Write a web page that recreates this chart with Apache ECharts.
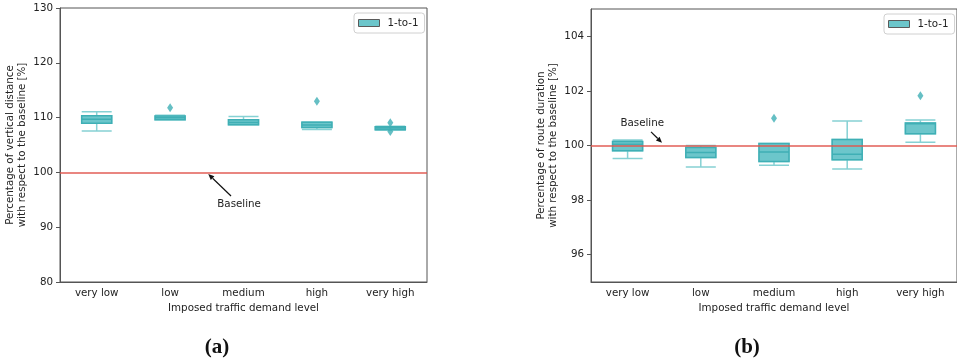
<!DOCTYPE html>
<html>
<head>
<meta charset="utf-8">
<script src="https://cdn.jsdelivr.net/npm/echarts@6/dist/echarts.min.js"></script>
<style>
  html, body { margin: 0; padding: 0; background: #fff; }
  #chart { width: 957px; height: 362px; }
</style>
</head>
<body>
<div id="chart"></div>
<script>
// Demand levels shared by both panels
const categories = ['very low', 'low', 'medium', 'high', 'very high'];

// (a) vertical distance, % of baseline: [min, Q1, median, Q3, max]
const distanceBoxes = [
  [107.55, 108.96, 109.70, 110.35, 111.08],
  [109.60, 109.60, 109.95, 110.30, 110.45],
  [108.70, 108.70, 109.10, 109.60, 110.20],
  [107.85, 108.20, 108.65, 109.15, 109.20],
  [107.75, 107.80, 108.10, 108.35, 108.40]
];
const distanceOutliers = [[1, 111.8], [3, 113.0], [4, 109.05], [4, 107.45]];

// (b) route duration, % of baseline: [min, Q1, median, Q3, max]
const durationBoxes = [
  [99.52, 99.81, 100.05, 100.15, 100.20],
  [99.21, 99.56, 99.74, 99.93, 100.00],
  [99.28, 99.41, 99.76, 100.07, 100.07],
  [99.14, 99.48, 99.68, 100.22, 100.90],
  [100.12, 100.43, 100.80, 100.82, 100.93]
];
const durationOutliers = [[2, 101.0], [4, 101.82]];

// Axis ticks
const distanceTicks = [80, 90, 100, 110, 120, 130];
const durationTicks = [96, 98, 100, 102, 104];
const baselineValue = 100;

const FONT = 'DejaVu Sans';
const FS = 10.3;
const FILL = '#6cc6cb';
const EDGE = '#3fafb5';
const WHISKER = '#86d1d4';
const AXIS = '#555';

// Box-only view of the same statistics (whiskers collapsed onto the box)
const boxOnly = rows => rows.map(r => [r[1], r[1], r[2], r[3], r[3]]);

const grids = [
  { left: 60, top: 8, width: 367, height: 274 },
  { left: 591, top: 9, width: 367, height: 273 }
];

function xAxisFor(gi, visible) {
  return {
    type: 'category', gridIndex: gi, data: categories, show: visible,
    name: visible ? 'Imposed traffic demand level' : '',
    nameLocation: 'middle', nameGap: 20,
    nameTextStyle: { fontFamily: FONT, fontSize: FS, color: '#222' },
    axisLine: { lineStyle: { color: AXIS, width: 1 } },
    axisTick: { alignWithLabel: true, length: 4, lineStyle: { color: AXIS } },
    axisLabel: { fontFamily: FONT, fontSize: FS, color: '#222', margin: 6 },
    splitLine: { show: false }
  };
}

function yAxisFor(gi, name, min, max, interval, ticks) {
  return {
    type: 'value', gridIndex: gi, min, max, interval,
    name, nameLocation: 'middle', nameGap: 32,
    nameTextStyle: { fontFamily: FONT, fontSize: FS, color: '#222', lineHeight: 12 },
    axisLine: { show: true, lineStyle: { color: AXIS, width: 1 } },
    axisTick: { show: true, length: 4, lineStyle: { color: AXIS }, customValues: ticks },
    axisLabel: { fontFamily: FONT, fontSize: FS, color: '#222', margin: 7, customValues: ticks },
    splitLine: { show: false }
  };
}

function panelSeries(gi, boxes, outliers) {
  // Baseline reference line, drawn above the boxes
  const baseline = {
    silent: true, symbol: ['none', 'none'], label: { show: false },
    lineStyle: { color: '#e0554d', width: 1.5, type: 'solid', opacity: 0.95 },
    data: [{ yAxis: baselineValue }]
  };
  return [
    {
      name: '1-to-1', type: 'boxplot', xAxisIndex: gi, yAxisIndex: gi,
      data: boxes, boxWidth: [30, 30],
      itemStyle: { color: FILL, borderColor: WHISKER, borderWidth: 1.5 },
      z: 2
    },
    {
      name: '1-to-1', type: 'boxplot', xAxisIndex: gi + 2, yAxisIndex: gi,
      data: boxOnly(boxes), boxWidth: [30, 30],
      itemStyle: { color: FILL, borderColor: EDGE, borderWidth: 1.5 },
      z: 3
    },
    {
      name: '1-to-1', type: 'scatter', xAxisIndex: gi, yAxisIndex: gi,
      data: outliers, symbol: 'diamond', symbolSize: [6, 9],
      itemStyle: { color: EDGE }, markLine: baseline, z: 4
    }
  ];
}

function legendAt(left, top) {
  return {
    left, top, orient: 'vertical',
    data: [{ name: '1-to-1', icon: 'rect' }],
    itemWidth: 21, itemHeight: 7,
    itemStyle: { color: FILL, borderColor: '#5a5a5a', borderWidth: 1 },
    padding: [5, 6, 5, 4],
    borderColor: '#d0d0d0', borderWidth: 1, borderRadius: 3,
    backgroundColor: '#fff',
    textStyle: { fontFamily: FONT, fontSize: FS, color: '#222', padding: [0, 0, 0, 3] },
    selectedMode: false
  };
}

const chart = echarts.init(document.getElementById('chart'), null, { renderer: 'canvas' });

chart.setOption({
  animation: false,
  backgroundColor: '#fff',
  grid: grids.map(g => Object.assign({ show: true, borderColor: AXIS, borderWidth: 1 }, g)),
  xAxis: [xAxisFor(0, true), xAxisFor(1, true), xAxisFor(0, false), xAxisFor(1, false)],
  yAxis: [
    yAxisFor(0, 'Percentage of vertical distance\nwith respect to the baseline [%]', 80, 130, 10, distanceTicks),
    yAxisFor(1, 'Percentage of route duration\nwith respect to the baseline [%]', 95, 105, 1, durationTicks)
  ],
  legend: [legendAt(354, 13), legendAt(884, 14)],
  title: [
    { text: '(a)', left: 212, top: 332, textAlign: 'center',
      textStyle: { fontFamily: 'Liberation Serif', fontWeight: 'bold', fontSize: 21, color: '#111' } },
    { text: '(b)', left: 742, top: 332, textAlign: 'center',
      textStyle: { fontFamily: 'Liberation Serif', fontWeight: 'bold', fontSize: 21, color: '#111' } }
  ],
  series: [
    ...panelSeries(0, distanceBoxes, distanceOutliers),
    ...panelSeries(1, durationBoxes, durationOutliers)
  ]
});

// Pixel position for a fractional category index, interpolated between category centres
function toPixel(gi, idx, value) {
  const i0 = Math.min(Math.floor(idx), categories.length - 2);
  const t = idx - i0;
  const p0 = chart.convertToPixel({ xAxisIndex: gi, yAxisIndex: gi }, [i0, value]);
  const p1 = chart.convertToPixel({ xAxisIndex: gi, yAxisIndex: gi }, [i0 + 1, value]);
  return [p0[0] + (p1[0] - p0[0]) * t, p0[1] + (p1[1] - p0[1]) * t];
}

// "Baseline" annotation: label, shaft and arrow head pointing at the baseline
function annotation(gi, textAt, tailAt, headAt) {
  const txt = toPixel(gi, textAt[0], textAt[1]);
  const tail = toPixel(gi, tailAt[0], tailAt[1]);
  const head = toPixel(gi, headAt[0], headAt[1]);
  const ang = Math.atan2(head[1] - tail[1], head[0] - tail[0]);
  const L = 6, W = 2.6;
  const back = [head[0] - L * Math.cos(ang), head[1] - L * Math.sin(ang)];
  const nx = -Math.sin(ang) * W, ny = Math.cos(ang) * W;
  return [
    { type: 'text', x: txt[0], y: txt[1],
      style: { text: 'Baseline', font: FS + 'px "DejaVu Sans"', fill: '#222', align: 'center', verticalAlign: 'middle' } },
    { type: 'line', shape: { x1: tail[0], y1: tail[1], x2: back[0], y2: back[1] },
      style: { stroke: '#111', lineWidth: 1.2 } },
    { type: 'polygon', shape: { points: [head, [back[0] + nx, back[1] + ny], [back[0] - nx, back[1] - ny]] },
      style: { fill: '#111' } }
  ];
}

chart.setOption({
  graphic: [
    ...annotation(0, [1.94, 94.2], [1.83, 95.7], [1.52, 99.7]),
    ...annotation(1, [0.20, 100.83], [0.32, 100.5], [0.47, 100.1])
  ]
});
</script>
</body>
</html>
